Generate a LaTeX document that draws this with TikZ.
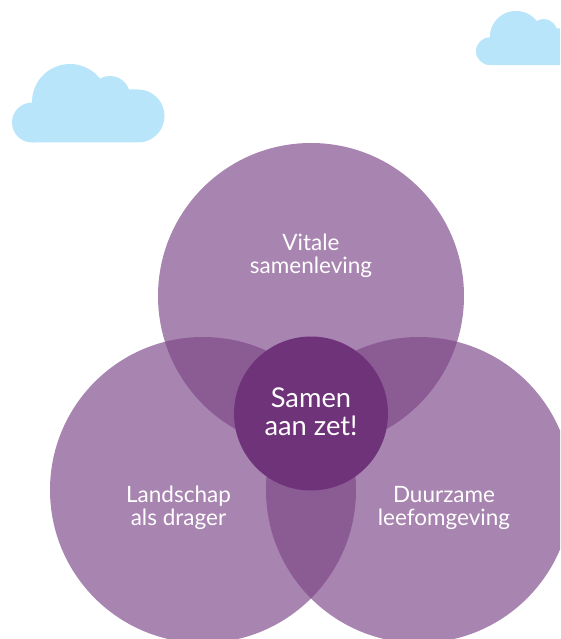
\documentclass[tikz,border=0pt]{standalone}
\usepackage{fontspec}
\setmainfont{Lato}
\definecolor{plum}{HTML}{6F337A}
\definecolor{plumlight}{HTML}{A884B0}
\definecolor{plummid}{HTML}{8B5C94}
\definecolor{sky}{HTML}{B9E5FB}
\tikzset{
  bigcircle/.style={circle,draw=none,fill=plumlight,minimum size=306pt,inner sep=0pt},
  hub/.style={circle,draw=none,fill=plum,minimum size=154pt,inner sep=0pt},
  sidelabel/.style={text=white,align=center,font=\fontsize{22.5}{23}\selectfont},
  hublabel/.style={text=white,align=center,font=\fontsize{27.3}{27.5}\selectfont},
  cloudpart/.style={fill=sky,draw=none}
}
\newcommand{\cloudshape}{%
  \fill[cloudpart] (32,-142.5) -- (138,-142.5) arc[start angle=-90,end angle=90,radius=26.5] -- (80,-89.5) -- (40,-105) -- (32,-105) -- cycle;
  \fill[cloudpart] (32,-122.5) circle[radius=20];
  \fill[cloudpart] (70,-102) circle[radius=38];
  \fill[cloudpart] (110,-96) circle[radius=20];
}
\newcommand{\lens}[2]{%
  \begin{scope}
    \clip #1 circle[radius=153];
    \fill[plummid] #2 circle[radius=153];
  \end{scope}
}
\begin{document}
\begin{tikzpicture}[x=1pt,y=1pt]
\useasboundingbox (0,-639) rectangle (560,0);
\begin{scope}
\clip (0,-639) rectangle (560,0);
\cloudshape
\begin{scope}[shift={(467.7,33.3)},scale=0.69]
\cloudshape
\end{scope}
\node[bigcircle] (vitale) at (311,-296) {};
\node[bigcircle] (landschap) at (203,-490) {};
\node[bigcircle] (duurzaam) at (419,-490) {};
\lens{(311,-296)}{(203,-490)}
\lens{(311,-296)}{(419,-490)}
\lens{(203,-490)}{(419,-490)}
\node[hub] (samen) at (311,-413.5) {};
\end{scope}
\node[hublabel] (samenlabel) at (311,-411.5) {Samen\\aan zet!};
\node[sidelabel] (vitalelabel) at (311,-255.5) {Vitale\\samenleving};
\node[sidelabel] (landlabel) at (178.5,-508) {Landschap\\als drager};
\node[sidelabel] (duurlabel) at (444,-508) {Duurzame\\leefomgeving};
\end{tikzpicture}
\end{document}
